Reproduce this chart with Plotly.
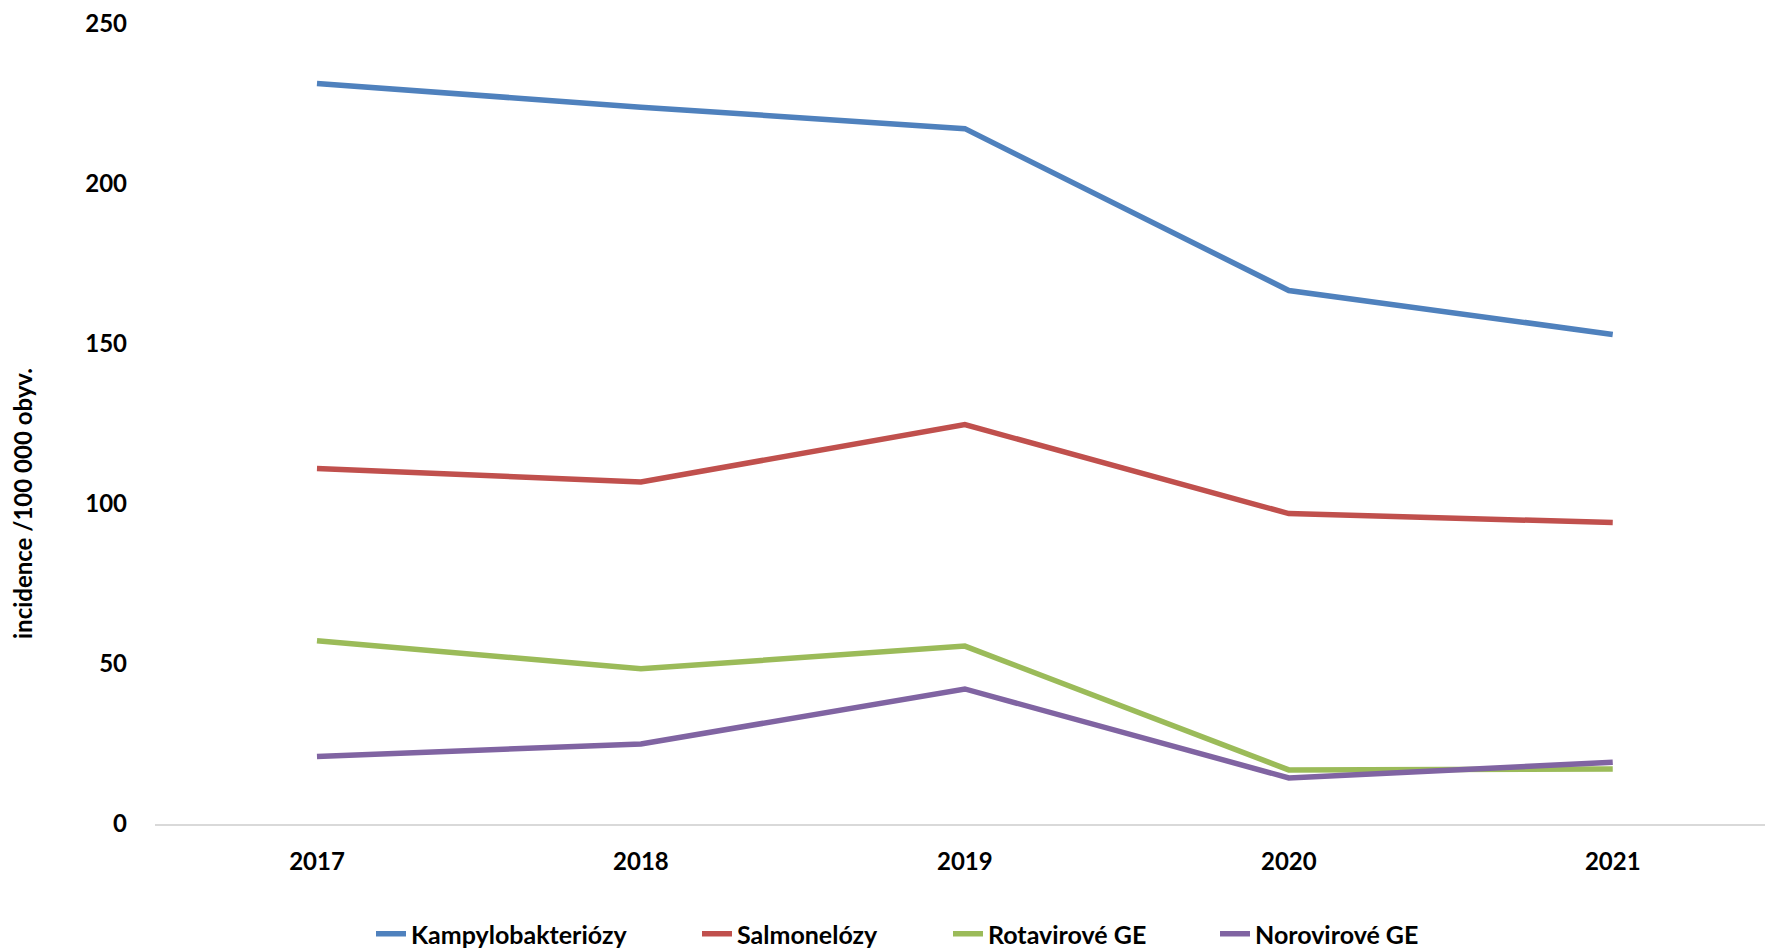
import plotly.graph_objects as go

years = ["2017", "2018", "2019", "2020", "2021"]
kampylobakteriozy = [231.4, 224.0, 217.3, 166.7, 153.0]
salmonelozy = [111.1, 106.9, 124.8, 97.0, 94.2]
rotavirove = [57.3, 48.5, 55.6, 16.9, 17.2]
norovirove = [21.1, 25.0, 42.2, 14.4, 19.3]

series = [
    ("Kampylobakteriózy", kampylobakteriozy, "#4F81BD"),
    ("Salmonelózy", salmonelozy, "#C0504D"),
    ("Rotavirové GE", rotavirove, "#9BBB59"),
    ("Norovirové GE", norovirove, "#8064A2"),
]

font_family = "Lato, 'Open Sans', sans-serif"

# plot area geometry (pixels)
W, H = 1765, 948
L, R, T, B = 155, 0, 24, 124
plot_w = W - L - R
plot_h = H - T - B

# left edge of each legend entry, in pixels
legend_px = [371, 697, 948, 1215]
legend_keys = ["legend", "legend2", "legend3", "legend4"]

fig = go.Figure()
for (name, values, color), key in zip(series, legend_keys):
    fig.add_trace(go.Scatter(
        x=years, y=values, name=name, mode="lines",
        line=dict(color=color, width=5.5),
        legend=key,
    ))

legend_font = dict(family=font_family, size=25, color="black", weight="bold")
legends = {}
for key, px in zip(legend_keys, legend_px):
    legends[key] = dict(
        orientation="h", x=(px - L) / plot_w, xanchor="left",
        y=(T + plot_h - 934) / plot_h, yanchor="middle",
        font=legend_font, bgcolor="rgba(0,0,0,0)",
    )

fig.update_layout(
    width=W, height=H,
    paper_bgcolor="white", plot_bgcolor="white",
    margin=dict(l=L, r=R, t=T, b=B, autoexpand=False),
    font=dict(family=font_family, color="black", size=24),
    showlegend=True,
    xaxis=dict(
        type="category", range=[-0.5, 4.47],
        showgrid=False, showline=True, linecolor="#D9D9D9", linewidth=2,
        ticks="", ticklabelstandoff=15,
        tickfont=dict(family=font_family, size=24, weight="bold"),
    ),
    yaxis=dict(
        range=[0, 250], tickvals=[0, 50, 100, 150, 200, 250],
        showgrid=False, zeroline=False, showline=False, ticks="",
        ticklabelstandoff=27,
        tickfont=dict(family=font_family, size=24, weight="bold"),
    ),
    annotations=[dict(
        text="incidence /100 000 obyv.", textangle=-90,
        xref="paper", yref="paper",
        x=(22 - L) / plot_w, y=(T + plot_h - 504) / plot_h,
        xanchor="center", yanchor="middle", showarrow=False,
        font=dict(family=font_family, size=24, weight="bold", color="black"),
    )],
    **legends,
)

fig.write_html("out.html")
